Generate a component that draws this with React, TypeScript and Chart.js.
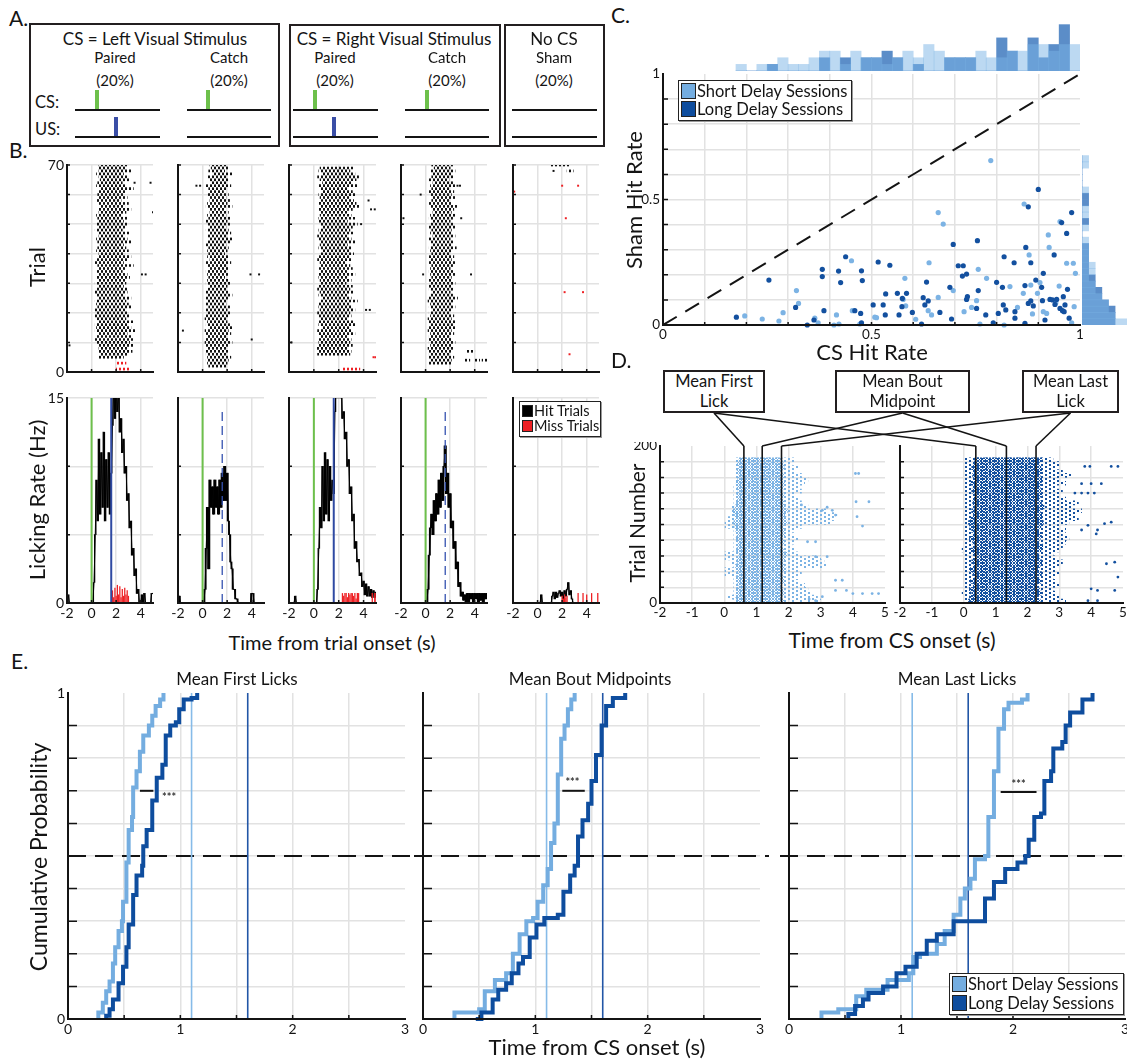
import React, { useEffect, useRef } from 'react';
import { Chart, registerables } from 'chart.js';

Chart.register(...registerables);

// ======================= DATA =======================
// ---- Panel B: licking-rate traces, 0.1 s bins from -2.0 s to 5.0 s (Hz) ----
const rateBinStart = -2;
const rateBinWidth = 0.1;
const rateLeftPairedHit = [
  0.6, 0.6, 0, 0, 0, 0, 0, 0, 0, 0,
  0, 0, 0, 0, 0, 0, 0, 0, 0, 0,
  0, 0, 1.5, 5, 9, 6, 12, 6.5, 11, 7,
  12.5, 6, 10.5, 7, 11, 6.5, 9.5, 13, 16, 13.5,
  16, 14, 15.5, 12.5, 13.5, 11, 12, 9.5, 10, 7.5,
  8, 5.5, 6, 3.5, 4, 2, 2.5, 0.7, 1, 0,
  0, 0.6, 0, 0.7, 0, 0, 0, 0, 0, 0.7, 0.7,
];
const rateLeftPairedMiss = [
  0, 0, 0, 0, 0, 0, 0, 0, 0, 0,
  0, 0, 0, 0, 0, 0, 0, 0, 0, 0,
  0, 0, 0, 0, 0, 0, 0, 0, 0, 0,
  0, 0, 0, 0, 0, 0, 0, 0.9, 0.4, 1.1,
  0.5, 1.3, 0.6, 1.2, 0.4, 1.0, 0.5, 1.1, 0.6, 0.9,
  0.5, 0, 0, 0, 0, 0, 0, 0, 0, 0,
  0, 0, 0, 0, 0, 0, 0, 0, 0, 0, 0,
];
const rateLeftCatchHit = [
  0.5, 0.5, 0, 0, 0, 0, 0, 0, 0, 0,
  0, 0, 0, 0, 0, 0, 0, 0, 0, 0,
  0, 0, 1, 4, 7, 2.5, 9, 7, 8.5, 6.5,
  9, 7, 8.5, 6.5, 9, 7, 9.5, 7.5, 10, 7.5,
  9.5, 6, 5, 3, 2.5, 1, 1, 0.3, 0.3, 0,
  0, 0, 0, 0, 0, 0, 0, 0, 0, 0,
  0.7, 0.7, 0, 0, 0, 0, 0, 0, 0, 0, 0,
];
const rateRightPairedHit = [
  0, 0, 0, 0, 0, 0.5, 0, 0, 0, 0,
  0, 0, 0, 0, 0, 0, 0, 0, 0, 0,
  0, 0, 0, 1, 4, 7, 5.5, 10, 6, 11,
  6.5, 10.5, 6, 10, 7.5, 9, 8, 14, 16, 15,
  16, 15, 16, 13.5, 14, 12, 12.5, 10, 10.5, 8,
  8.5, 6, 6.5, 4, 4.5, 3, 3.2, 2, 2.2, 1.2,
  1.6, 0.6, 1.4, 0.5, 1.2, 0.5, 1, 0.4, 0.9, 0.4, 0.8,
];
const rateRightPairedMiss = [
  0, 0, 0, 0, 0, 0, 0, 0, 0, 0,
  0, 0, 0, 0, 0, 0, 0, 0, 0, 0,
  0, 0, 0, 0, 0, 0, 0, 0, 0, 0,
  0, 0, 0, 0, 0, 0, 0, 0, 0, 0,
  0, 0, 0, 0.7, 0.5, 0.7, 0.7, 0.4, 0.7, 0.6,
  0.7, 0.7, 0.5, 0.7, 0.3, 0.7, 0.7, 0, 0, 0,
  0, 0, 0, 0, 0, 0, 0, 0.7, 0, 0.7, 0.7,
];
const rateRightCatchHit = [
  0, 0, 0, 0, 0, 0, 0, 0, 0, 0,
  0, 0, 0, 0, 0, 0, 0, 0, 0, 0,
  0, 0, 1, 3.5, 5.5, 6.5, 5, 7.5, 6, 8,
  6.5, 9, 7, 9.5, 7.5, 10, 11.5, 8, 9.5, 7,
  8, 5.5, 6, 4, 4.5, 2.5, 3, 1.2, 1.5, 0.5,
  0.8, 0.2, 0.6, 0, 0.7, 0, 0.7, 0.3, 0.7, 0,
  0.7, 0.3, 0.7, 0, 0.7, 0.2, 0.7, 0, 0.7, 0.3, 0.7,
];
const rateShamHit = [
  0, 0, 0, 0, 0, 0, 0, 0, 0, 0,
  0, 0, 0, 0, 0, 0, 0, 0, 0, 0,
  0, 0, 0, 0.6, 0, 0, 0, 0, 0, 0,
  0, 0, 0.5, 0.8, 0.3, 0.8, 0.4, 0.7, 0.9, 0.5,
  0.8, 0.3, 0.9, 0.5, 1.0, 1.5, 0.6, 0.9, 0.3, 0,
  0, 0, 0, 0, 0, 0, 0, 0, 0, 0,
  0, 0, 0, 0, 0, 0, 0, 0, 0, 0, 0,
];
const rateShamMiss = [
  0.7, 0, 0, 0, 0, 0, 0, 0, 0, 0,
  0, 0, 0, 0, 0, 0, 0, 0, 0, 0,
  0, 0, 0, 0, 0, 0, 0, 0, 0, 0,
  0, 0, 0, 0, 0, 0, 0, 0, 0, 0,
  0.5, 0.3, 0.6, 0.4, 0.5, 0, 0, 0, 0, 0,
  0, 0, 0, 0.7, 0, 0, 0, 0.7, 0, 0,
  0.6, 0, 0, 0, 0.7, 0, 0, 0, 0, 0.7, 0,
];
const csOnset = 0;
const usOnset = 1.6;

// ---- Panel B: lick rasters, first/last lick of each hit trial (s), listed from the top trial down ----
const rasterLeftPairedStart = [
  0.6, 0.5, 0.6, 0.4, 0.6, 0.7, 0.5, 0.4, 0.8, 0.6,
  0.5, 0.6, 0.4, 0.5, 0.7, 0.5, 0.6, 0.4, 0.5, 0.6,
  0.4, 0.5, 0.3, 0.5, 0.6, 0.4, 0.5, 0.7, 0.5, 0.4,
  0.6, 0.5, 0.4, 0.3, 0.5, 0.6, 0.4, 0.5, 0.4, 0.6,
  0.3, 0.5, 0.4, 0.2, 0.4, 0.5, 0.3, 0.4, 0.5, 0.3,
  0.4, 0.2, 0.4, 0.5, 0.3, 0.4, 0.3, 0.5, 0.4, 0.3,
  0.4, 0.5, 0.6, 0.5, 0.7, 0.6,
];
const rasterLeftPairedEnd = [
  3.0, 2.7, 3.2, 2.6, 2.9, 3.1, 2.5, 2.8, 3.4, 2.7,
  2.6, 2.9, 2.4, 3.0, 2.7, 3.2, 2.8, 2.5, 2.9, 2.6,
  3.0, 2.8, 2.5, 3.1, 2.7, 2.9, 3.3, 2.6, 2.8, 3.0,
  2.7, 3.2, 2.9, 2.6, 3.4, 2.8, 2.5, 2.9, 3.1, 2.7,
  2.8, 2.6, 3.0, 2.9, 2.7, 3.2, 2.8, 3.0, 3.3, 2.7,
  2.9, 3.1, 2.8, 3.4, 3.0, 3.2, 3.6, 2.9, 3.3, 3.5,
  3.1, 3.4, 3.0, 3.3, 2.9, 2.6,
];
const rasterLeftPairedMissRows = [[2.0, 2.8, 3], [2.0, 3.1, 1]];
const rasterLeftPairedDots = [[3.5, 64], [4.8, 64], [5.0, 54], [4.1, 33], [4.4, 33], [-1.8, 9]];

const rasterLeftCatchStart = [
  0.6, 0.7, 0.5, 0.8, 0.4, 0.6, 0.7, 0.3, 0.5, 0.6,
  0.4, 0.5, 0.6, 0.4, 0.3, 0.5, 0.6, 0.4, 0.5, 0.3,
  0.4, 0.5, 0.3, 0.6, 0.4, 0.5, 0.4, 0.3, 0.5, 0.4,
  0.5, 0.4, 0.6, 0.3, 0.4, 0.5, 0.3, 0.4, 0.5, 0.4,
  0.3, 0.5, 0.4, 0.3, 0.4, 0.2, 0.4, 0.3, 0.5, 0.3,
  0.4, 0.3, 0.2, 0.4, 0.3, 0.5, 0.2, 0.3, 0.4, 0.3,
  0.2, 0.3, 0.4, 0.2, 0.3, 0.4, 0.3, 0.4, 0.5,
];
const rasterLeftCatchEnd = [
  1.9, 2.1, 1.8, 2.5, 2.0, 2.2, 1.9, 2.3, 2.0, 1.7,
  2.1, 1.9, 2.2, 2.0, 2.4, 1.8, 2.1, 1.9, 2.3, 2.0,
  2.2, 1.9, 2.1, 2.3, 2.0, 2.4, 2.2, 1.9, 2.1, 2.0,
  1.8, 2.2, 2.0, 2.3, 1.9, 2.1, 2.0, 2.2, 1.8, 2.1,
  2.3, 2.0, 1.9, 2.2, 2.4, 2.1, 2.0, 1.9, 2.2, 2.0,
  2.3, 2.1, 1.9, 2.0, 2.2, 2.5, 2.1, 2.3, 2.0, 2.2,
  2.4, 2.1, 1.9, 2.2, 2.0, 2.3, 2.1, 2.0, 1.9,
];
const rasterLeftCatchDots = [[-0.2, 63], [-0.5, 63], [3.9, 33], [4.6, 33], [-1.6, 14], [4.0, 11]];

const rasterRightPairedStart = [
  0.5, 0.4, 0.6, 0.3, 0.5, 0.7, 0.4, 0.5, 0.6, 0.4,
  0.5, 0.6, 0.3, 0.5, 0.4, 0.6, 0.5, 0.4, 0.3, 0.5,
  0.6, 0.4, 0.5, 0.3, 0.4, 0.6, 0.5, 0.4, 0.7, 0.5,
  0.4, 0.3, 0.5, 0.6, 0.4, 0.5, 0.3, 0.4, 0.5, 0.6,
  0.4, 0.3, 0.5, 0.4, 0.6, 0.5, 0.3, 0.4, 0.5, 0.3,
  0.4, 0.5, 0.3, 0.4, 0.6, 0.3, 0.4, 0.5, 0.3, 0.4,
  0.3, 0.2, 0.4, 0.3,
];
const rasterRightPairedEnd = [
  3.2, 2.9, 3.3, 3.6, 3.4, 3.0, 3.5, 2.8, 3.1, 3.3,
  2.9, 3.2, 3.4, 3.7, 3.1, 2.8, 3.0, 3.3, 2.7, 3.5,
  3.1, 2.9, 3.2, 2.8, 3.0, 3.4, 2.7, 3.1, 2.9, 3.2,
  2.8, 3.0, 2.6, 2.9, 3.1, 2.7, 3.3, 2.8, 3.0, 2.6,
  3.1, 2.9, 3.2, 2.7, 3.0, 3.5, 2.8, 3.1, 3.3, 2.9,
  3.0, 2.8, 3.2, 3.4, 2.9, 3.1, 3.3, 2.8, 3.0, 2.9,
  3.1, 2.8, 3.0, 2.9,
];
const rasterRightPairedMissRows = [[2.3, 3.7, 1]];
const rasterRightPairedDots = [[4.4, 58], [4.6, 55], [4.9, 55], [3.8, 50], [4.2, 21], [4.5, 21], [-1.8, 10]];
const rasterRightPairedMissDots = [[4.8, 5], [4.95, 5]];

const rasterRightCatchStart = [
  0.5, 0.7, 0.4, 0.6, 0.5, 0.3, 0.6, 0.4, 0.5, 0.3,
  0.4, 0.6, 0.5, 0.3, 0.4, 0.5, 0.6, 0.4, 0.3, 0.5,
  0.4, 0.3, 0.5, 0.4, 0.6, 0.3, 0.4, 0.5, 0.3, 0.4,
  0.5, 0.3, 0.4, 0.2, 0.5, 0.4, 0.3, 0.4, 0.5, 0.3,
  0.4, 0.2, 0.3, 0.5, 0.4, 0.3, 0.2, 0.4, 0.3, 0.5,
  0.3, 0.4, 0.2, 0.3, 0.4, 0.3, 0.2, 0.4, 0.3, 0.2,
  0.3, 0.4, 0.2, 0.3, 0.3, 0.2, 0.4, 0.3,
];
const rasterRightCatchEnd = [
  2.2, 2.0, 2.4, 2.1, 2.3, 1.9, 2.2, 2.5, 2.0, 2.3,
  2.1, 2.4, 2.0, 2.2, 2.6, 2.3, 2.1, 2.4, 2.2, 2.0,
  2.3, 2.5, 2.1, 2.2, 2.4, 2.0, 2.3, 2.1, 2.5, 2.2,
  2.0, 2.3, 2.1, 2.4, 2.2, 2.0, 2.3, 2.5, 2.1, 2.2,
  2.4, 2.1, 2.3, 2.0, 2.2, 2.6, 2.3, 2.1, 2.4, 2.2,
  2.0, 2.3, 2.1, 2.5, 2.2, 2.4, 2.1, 2.3, 2.0, 2.2,
  2.4, 2.1, 2.3, 2.2, 2.0, 2.3, 2.1, 2.2,
];
const rasterRightCatchRows = [[3.3, 4.0, 7], [3.1, 3.6, 4], [4.0, 4.4, 4], [4.6, 5.0, 4]];
const rasterRightCatchDots = [[2.6, 63], [2.8, 63], [-0.4, 60], [2.9, 52], [-1.8, 52], [3.7, 33], [-0.2, 33]];

const rasterShamRows = [[1.1, 2.6, 70], [2.4, 2.9, 68]];
const rasterShamDots = [[1.3, 68]];
const rasterShamMissDots = [[2.0, 63], [3.3, 63], [-1.9, 61], [2.3, 52], [2.2, 27], [3.7, 27], [2.6, 6]];

// ---- Panel C: per-session hit rates ----
const shortCsHit = [
  0.196, 0.238, 0.278, 0.288, 0.32, 0.325, 0.364, 0.372, 0.416, 0.41,
  0.422, 0.454, 0.452, 0.472, 0.508, 0.512, 0.58, 0.576, 0.582, 0.606,
  0.636, 0.638, 0.644, 0.66, 0.66, 0.672, 0.696, 0.722, 0.74, 0.756,
  0.752, 0.76, 0.776, 0.786, 0.818, 0.832, 0.85, 0.866, 0.864, 0.878,
  0.882, 0.886, 0.898, 0.904, 0.912, 0.92, 0.924, 0.926, 0.942, 0.95,
  0.952, 0.968, 0.98, 0.984, 0.986, 0.989,
];
const shortShamHit = [
  0.036, 0.024, 0.016, 0.049, 0.137, 0.086, 0.027, 0.009, 0.04, 0.0,
  0.004, 0.057, 0.256, 0.004, 0.031, 0.029, 0.186, 0.102, 0.076, 0.023,
  0.057, 0.248, 0.04, 0.448, 0.11, 0.402, 0.137, 0.053, 0.07, 0.222,
  0.097, 0.004, 0.186, 0.655, 0.0, 0.153, 0.07, 0.482, 0.126, 0.279,
  0.159, 0.044, 0.126, 0.169, 0.053, 0.046, 0.359, 0.309, 0.089, 0.155,
  0.412, 0.246, 0.009, 0.246, 0.073, 0.206,
];
const longCsHit = [
  0.176, 0.254, 0.318, 0.362, 0.346, 0.382, 0.382, 0.386, 0.421, 0.426,
  0.438, 0.46, 0.474, 0.476, 0.478, 0.476, 0.504, 0.516, 0.528, 0.533,
  0.534, 0.544, 0.562, 0.566, 0.574, 0.573, 0.584, 0.598, 0.62, 0.624,
  0.632, 0.636, 0.628, 0.664, 0.692, 0.688, 0.696, 0.708, 0.72, 0.718,
  0.728, 0.728, 0.73, 0.754, 0.756, 0.752, 0.774, 0.792, 0.8, 0.804,
  0.814, 0.816, 0.818, 0.822, 0.842, 0.844, 0.844, 0.868, 0.868, 0.87,
  0.876, 0.876, 0.882, 0.882, 0.888, 0.894, 0.9, 0.908, 0.91, 0.912,
  0.916, 0.928, 0.934, 0.938, 0.94, 0.944, 0.952, 0.956, 0.958, 0.96,
  0.962, 0.964, 0.968, 0.97, 0.974, 0.98,
];
const longShamHit = [
  0.031, 0.179, 0.07, 0.02, 0.0, 0.222, 0.193, 0.057, 0.215, 0.169,
  0.272, 0.057, 0.046, 0.216, 0.177, 0.009, 0.08, 0.251, 0.08, 0.04,
  0.124, 0.238, 0.126, 0.04, 0.106, 0.073, 0.126, 0.05, 0.004, 0.109,
  0.171, 0.096, 0.08, 0.05, 0.024, 0.15, 0.321, 0.236, 0.236, 0.195,
  0.203, 0.102, 0.113, 0.336, 0.137, 0.066, 0.04, 0.009, 0.17, 0.046,
  0.15, 0.08, 0.272, 0.06, 0.248, 0.053, 0.027, 0.007, 0.157, 0.309,
  0.471, 0.086, 0.248, 0.096, 0.076, 0.179, 0.54, 0.15, 0.097, 0.206,
  0.02, 0.102, 0.1, 0.279, 0.082, 0.102, 0.066, 0.408, 0.057, 0.113,
  0.053, 0.08, 0.365, 0.142, 0.027, 0.448,
];
// marginal histograms (counts), bins of 0.025
const csHistStart = 0.175;
const histBinWidth = 0.025;
const csHistShort = [1, 0, 1, 1, 2, 1, 1, 2, 3, 3, 1, 3, 2, 2, 1, 2, 3, 2, 4, 3, 2, 2, 2, 3, 2, 2, 3, 3, 4, 4, 3, 4, 4];
const csHistLong = [0, 0, 0, 1, 0, 0, 0, 0, 2, 0, 2, 0, 2, 2, 3, 2, 0, 1, 0, 0, 2, 2, 2, 0, 0, 5, 3, 0, 5, 2, 4, 7, 0];
const shamHistStart = 0;
const shamHistShort = [7, 5, 4, 4, 3, 2, 2, 1, 2, 2, 1, 1, 1, 1, 0, 1, 0, 1, 1, 0, 0, 1, 0, 0, 0, 1, 1];
const shamHistLong = [5, 5, 5, 4, 3, 3, 2, 2, 1, 1, 1, 1, 1, 0, 0, 0, 1, 0, 0, 1, 1, 0, 0, 0, 0, 0, 0];

// ---- Panel D: lick rasters grouped in blocks of 5 trials (s) ----
const dTrialsPerBlock = 5;
const dShortCoreStart = [
  0.40, 0.36, 0.42, 0.38, 0.45, 0.40, 0.37, 0.44, 0.39, 0.35,
  0.42, 0.40, 0.46, 0.38, 0.41, 0.43, 0.37, 0.40, 0.36, 0.33,
  0.30, 0.35, 0.32, 0.28, 0.34, 0.38, 0.41, 0.39, 0.43, 0.40,
  0.37, 0.42, 0.45, 0.40, 0.44, 0.41, 0.46,
];
const dShortCoreEnd = [
  1.85, 1.80, 1.90, 1.82, 1.78, 1.88, 1.84, 1.80, 1.92, 1.86,
  1.83, 1.88, 1.95, 1.84, 1.80, 1.86, 1.82, 1.88, 1.90, 1.84,
  1.95, 1.92, 1.88, 1.96, 1.90, 1.85, 1.82, 1.86, 1.80, 1.84,
  1.88, 1.82, 1.85, 1.80, 1.86, 1.83, 1.80,
];
const dShortSparseStart = [
  0.30, 0.10, 0.30, 0.30, 0.30, 0.30, 0.30, 0.00, 0.00, 0.30,
  0.20, 0.00, 0.00, 0.30, 0.30, 0.30, 0.30, 0.30, 0.30, 0.00,
  0.00, 0.10, 0.20, 0.20, 0.20, 0.30, 0.30, 0.30, 0.30, 0.30,
  0.35, 0.35, 0.35, 0.35, 0.35, 0.35, 0.35,
];
const dShortSparseEnd = [
  3.0, 2.9, 2.7, 2.6, 2.5, 2.3, 2.2, 2.4, 2.3, 3.2,
  3.1, 3.0, 2.3, 2.2, 2.1, 2.2, 2.3, 2.1, 2.2, 2.4,
  3.3, 3.4, 3.5, 3.2, 2.6, 2.4, 2.3, 2.2, 2.4, 2.3,
  2.5, 2.6, 2.4, 2.2, 2.3, 2.1, 2.2,
];
const dShortLateT = [4.08, 4.18, 4.1, 4.5, 4.13, 4.3, 2.59, 2.84, 2.84, 3.2, 3.46, 3.67, 3.46, 3.8, 4.0, 4.3, 4.6, 4.8, 3.05, 2.84, 2.64, 3.05, 3.36, 3.2, 3.46, 2.4];
const dShortLateTrial = [165, 165, 129, 129, 110, 98, 78, 78, 59, 59, 29, 29, 16, 16, 12, 12, 12, 12, 8, 3, 5, 118, 118, 122, 112, 125];

const dLongCoreStart = [
  0.15, 0.20, 0.25, 0.18, 0.30, 0.22, 0.35, 0.28, 0.20, 0.32,
  0.25, 0.38, 0.30, 0.22, 0.35, 0.28, 0.18, 0.30, 0.25, 0.20,
  0.15, 0.22, 0.30, 0.25, 0.35, 0.28, 0.32, 0.38, 0.25, 0.30,
  0.22, 0.35, 0.28, 0.32, 0.25, 0.30, 0.35,
];
const dLongCoreEnd = [
  2.40, 2.35, 2.45, 2.38, 2.30, 2.42, 2.36, 2.44, 2.32, 2.40,
  2.46, 2.38, 2.34, 2.42, 2.48, 2.36, 2.40, 2.44, 2.35, 2.42,
  2.50, 2.45, 2.48, 2.40, 2.52, 2.44, 2.38, 2.46, 2.42, 2.40,
  2.44, 2.48, 2.40, 2.45, 2.42, 2.38, 2.46,
];
const dLongSparseStart = [
  0.00, 0.00, -0.05, 0.00, 0.00, 0.00, 0.05, 0.00, 0.00, 0.05,
  0.00, 0.00, 0.00, -0.05, 0.00, 0.00, 0.00, 0.00, 0.05, 0.00,
  0.00, 0.00, 0.00, 0.00, 0.05, 0.00, 0.00, 0.00, 0.00, 0.00,
  0.00, 0.00, 0.05, 0.00, 0.00, 0.00, 0.05,
];
const dLongSparseEnd = [
  3.2, 3.0, 2.9, 2.8, 3.0, 2.9, 2.8, 3.0, 2.9, 3.0,
  3.1, 2.9, 2.8, 3.0, 3.1, 3.2, 3.3, 3.1, 3.2, 3.0,
  3.3, 3.6, 3.5, 3.7, 3.4, 3.6, 3.2, 3.0, 3.1, 2.9,
  3.2, 3.0, 3.4, 3.1, 2.9, 3.0, 2.8,
];
const dLongLateT = [3.8, 3.96, 4.63, 4.84, 3.7, 4.0, 4.32, 3.49, 3.7, 3.9, 4.1, 3.7, 4.42, 4.63, 4.2, 3.9, 4.16, 4.74, 4.48, 4.84, 4.0, 4.2, 4.74, 3.9, 4.2];
const dLongLateTrial = [174, 174, 174, 174, 152, 152, 152, 140, 140, 140, 140, 93, 101, 103, 93, 99, 88, 52, 50, 33, 18, 16, 16, 3, 3];
// mean first lick, bout midpoint, last lick (s)
const dShortMeans = [0.61, 1.18, 1.78];
const dLongMeans = [0.38, 1.34, 2.27];

// ---- Panel E: cumulative distributions (time s, cumulative probability) ----
const firstShortT = [0.27, 0.27, 0.31, 0.34, 0.37, 0.40, 0.42, 0.45, 0.48, 0.49, 0.52, 0.54, 0.57, 0.58, 0.61, 0.64, 0.67, 0.72, 0.75, 0.78, 0.82, 0.85];
const firstShortP = [0, 0.02, 0.05, 0.085, 0.115, 0.17, 0.22, 0.27, 0.30, 0.36, 0.48, 0.58, 0.62, 0.71, 0.76, 0.82, 0.87, 0.90, 0.93, 0.96, 0.98, 1.0];
const firstLongT = [0.34, 0.34, 0.37, 0.40, 0.45, 0.49, 0.52, 0.54, 0.58, 0.61, 0.66, 0.67, 0.70, 0.75, 0.79, 0.84, 0.87, 0.91, 0.96, 0.99, 1.03, 1.10, 1.15];
const firstLongP = [0, 0.01, 0.03, 0.06, 0.11, 0.16, 0.22, 0.29, 0.38, 0.44, 0.47, 0.53, 0.58, 0.67, 0.74, 0.78, 0.87, 0.90, 0.91, 0.95, 0.98, 0.985, 1.0];
const midShortT = [0.28, 0.28, 0.50, 0.55, 0.64, 0.74, 0.80, 0.86, 0.92, 0.98, 1.02, 1.07, 1.11, 1.14, 1.17, 1.20, 1.23, 1.26, 1.29, 1.32, 1.35];
const midShortP = [0, 0.02, 0.03, 0.085, 0.12, 0.14, 0.20, 0.26, 0.30, 0.31, 0.36, 0.41, 0.46, 0.54, 0.60, 0.75, 0.86, 0.90, 0.95, 0.98, 1.0];
const midLongT = [0.47, 0.52, 0.62, 0.67, 0.74, 0.79, 0.85, 0.89, 0.95, 1.01, 1.08, 1.20, 1.25, 1.31, 1.35, 1.38, 1.42, 1.47, 1.50, 1.54, 1.59, 1.63, 1.69, 1.80];
const midLongP = [0, 0.02, 0.06, 0.09, 0.11, 0.14, 0.17, 0.19, 0.25, 0.29, 0.31, 0.32, 0.39, 0.44, 0.47, 0.56, 0.61, 0.66, 0.73, 0.81, 0.90, 0.96, 0.985, 1.0];
const lastShortT = [0.29, 0.29, 0.44, 0.60, 0.69, 0.88, 1.07, 1.11, 1.17, 1.32, 1.39, 1.47, 1.53, 1.57, 1.62, 1.66, 1.75, 1.78, 1.83, 1.87, 1.92, 1.96, 2.08, 2.13];
const lastShortP = [0, 0.02, 0.03, 0.07, 0.09, 0.12, 0.14, 0.19, 0.20, 0.23, 0.27, 0.32, 0.37, 0.40, 0.43, 0.49, 0.50, 0.62, 0.76, 0.89, 0.95, 0.97, 0.98, 1.0];
const lastLongT = [0.53, 0.53, 0.59, 0.66, 0.71, 0.84, 0.96, 1.04, 1.14, 1.23, 1.32, 1.47, 1.71, 1.75, 1.83, 1.93, 2.04, 2.11, 2.14, 2.19, 2.25, 2.28, 2.34, 2.36, 2.44, 2.47, 2.51, 2.62, 2.71];
const lastLongP = [0, 0.015, 0.04, 0.06, 0.08, 0.10, 0.14, 0.16, 0.20, 0.24, 0.26, 0.30, 0.30, 0.37, 0.42, 0.46, 0.48, 0.50, 0.55, 0.62, 0.63, 0.73, 0.76, 0.83, 0.85, 0.90, 0.94, 0.98, 1.0];
const shortDelay = 1.1;
const longDelay = 1.6;
const medianLevel = 0.5;
// significance marks: [bar from, bar to, level, label x, label level]
const sigFirst = [0.64, 0.76, 0.70, 0.90, 0.68];
const sigMid = [1.24, 1.44, 0.70, 1.33, 0.725];
const sigLast = [1.89, 2.21, 0.696, 2.05, 0.718];

// ======================= STYLE =======================
const FONT = 'Lato, "Open Sans", "DejaVu Sans", sans-serif';
const GRID = '#e2e2e2';
const INK = '#141414';
const GREEN = '#6dc04b';
const BLUE = '#2f4aa2';
const RED = '#ee2024';
const LIGHT = '#74ade0';
const DARK = '#0e4d9e';
const LIGHT_DOT = '#7cb3e4';
const DARK_DOT = '#13509f';
const HIST_LONG = '#5b8dc8';
const HIST_SHORT = 'rgba(121,179,229,0.5)';

const LAYOUT = [
  { key: 'bt0', x: 67, y: 165, w: 86, h: 207, pad: [30, 6, 4, 6] },
  { key: 'bt1', x: 178, y: 165, w: 86, h: 207, pad: [6, 6, 4, 6] },
  { key: 'bt2', x: 289, y: 165, w: 87, h: 207, pad: [6, 6, 4, 6] },
  { key: 'bt3', x: 401, y: 165, w: 86, h: 207, pad: [6, 6, 4, 6] },
  { key: 'bt4', x: 513, y: 165, w: 86, h: 207, pad: [6, 6, 4, 6] },
  { key: 'bb0', x: 67, y: 398, w: 86, h: 205, pad: [30, 6, 6, 22] },
  { key: 'bb1', x: 178, y: 398, w: 86, h: 205, pad: [12, 6, 6, 22] },
  { key: 'bb2', x: 289, y: 398, w: 87, h: 205, pad: [12, 6, 6, 22] },
  { key: 'bb3', x: 401, y: 398, w: 86, h: 205, pad: [12, 6, 6, 22] },
  { key: 'bb4', x: 513, y: 398, w: 86, h: 205, pad: [12, 6, 6, 22] },
  { key: 'cm', x: 663, y: 74, w: 417, h: 251, pad: [34, 6, 6, 24] },
  { key: 'ch', x: 663, y: 20, w: 417, h: 51, pad: [0, 0, 0, 0] },
  { key: 'cr', x: 1082, y: 74, w: 45, h: 251, pad: [0, 0, 0, 0] },
  { key: 'dl', x: 660, y: 446, w: 225, h: 157, pad: [32, 4, 7, 22] },
  { key: 'dr', x: 900, y: 446, w: 225, h: 157, pad: [7, 4, 2, 22] },
  { key: 'e1', x: 68, y: 693, w: 337, h: 326, pad: [20, 6, 9, 22] },
  { key: 'e2', x: 423, y: 693, w: 337, h: 326, pad: [9, 6, 9, 22] },
  { key: 'e3', x: 789, y: 693, w: 336, h: 326, pad: [9, 6, 2, 22] },
];
const D_BOXES = [
  { x: 663, y: 370, w: 102, h: 43, lines: ['Mean First', 'Lick'] },
  { x: 835, y: 370, w: 135, h: 43, lines: ['Mean Bout', 'Midpoint'] },
  { x: 1022, y: 370, w: 97, h: 43, lines: ['Mean Last', 'Lick'] },
];
const OVERLAY = { x: 600, y: 360, w: 527, h: 100 };

// ======================= HELPERS =======================
function lin(min: number, max: number, grid: number[], horiz: boolean, show = true) {
  return {
    type: 'linear', min, max, display: show, offset: false,
    afterBuildTicks: (s: any) => { s.ticks = grid.map((v) => ({ value: v })); },
    ticks: { display: false },
    grid: { display: true, color: GRID, lineWidth: 1.5, drawTicks: false, offset: false },
    border: { display: false },
    afterFit: (s: any) => { if (horiz) s.height = 0; else s.width = 0; },
  };
}

function axesPlugin(o: any) {
  return {
    id: 'mAxes',
    afterDatasetsDraw(chart: any) {
      const { ctx, chartArea: a } = chart;
      const xs = chart.scales.x, ys = chart.scales.y;
      ctx.save();
      ctx.strokeStyle = INK; ctx.lineWidth = o.lw ?? 2; ctx.lineCap = 'square';
      ctx.beginPath(); ctx.moveTo(a.left, a.top); ctx.lineTo(a.left, a.bottom); ctx.lineTo(a.right, a.bottom); ctx.stroke();
      ctx.lineWidth = 1.5; ctx.lineCap = 'butt';
      ctx.beginPath();
      (o.yt || []).forEach((v: number) => { const p = ys.getPixelForValue(v); ctx.moveTo(a.left, p); ctx.lineTo(a.left + (o.yl ?? 5), p); });
      (o.xt || []).forEach((v: number) => { const p = xs.getPixelForValue(v); ctx.moveTo(p, a.bottom); ctx.lineTo(p, a.bottom - (o.xl ?? 4)); });
      ctx.stroke();
      ctx.fillStyle = INK; ctx.font = `${o.fs ?? 13}px ${FONT}`;
      ctx.textAlign = 'center'; ctx.textBaseline = 'top';
      (o.xLab || []).forEach(([v, s]: any) => ctx.fillText(s, xs.getPixelForValue(v), a.bottom + 3));
      ctx.textAlign = 'right'; ctx.textBaseline = 'middle';
      (o.yLab || []).forEach(([v, s]: any) => ctx.fillText(s, a.left - 3, ys.getPixelForValue(v)));
      ctx.restore();
    },
  };
}

function makePattern(color: string, tw: number, th: number, rects: number[][]) {
  const c = document.createElement('canvas');
  c.width = tw; c.height = th;
  const g = c.getContext('2d')!;
  g.fillStyle = color;
  rects.forEach(([x, y, w, h]) => g.fillRect(x, y, w, h));
  return g.createPattern(c, 'repeat');
}

const vline = (x: number, y0: number, y1: number, color: string, width: number, dash: number[] = [], order = 0) => ({
  type: 'line', data: [{ x, y: y0 }, { x, y: y1 }], borderColor: color, borderWidth: width,
  borderDash: dash, pointRadius: 0, order,
});

const rasterGrid = [10, 20, 30, 40, 50, 60, 70];

function rasterCfg(p: any, starts: number[], ends: number[], top: number, extraRows: number[][], missRows: number[][], dots: number[][], missDots: number[][], yLab: boolean) {
  const rows = starts.map((s, i) => ({ x: [s, ends[i]], y: top - i }))
    .concat(extraRows.map(([s, e, tr]) => ({ x: [s, e], y: tr })));
  const miss = missRows.map(([s, e, tr]) => ({ x: [s, e], y: tr }));
  return {
    type: 'scatter',
    data: {
      datasets: [
        { type: 'bar', indexAxis: 'y', grouped: false, data: rows, backgroundColor: rows.map((_, i) => p.black[i % 2]), barThickness: 2, borderWidth: 0, order: 2 },
        { type: 'bar', indexAxis: 'y', grouped: false, data: miss, backgroundColor: miss.map((_, i) => p.red[i % 2]), barThickness: 2, borderWidth: 0, order: 1 },
        { type: 'scatter', data: dots.map(([t, tr]) => ({ x: t, y: tr })), backgroundColor: '#111', pointStyle: 'rect', pointRadius: 1.4, borderWidth: 0, order: 0 },
        { type: 'scatter', data: missDots.map(([t, tr]) => ({ x: t, y: tr })), backgroundColor: RED, pointStyle: 'rect', pointRadius: 1.4, borderWidth: 0, order: 0 },
      ],
    },
    options: { scales: { x: lin(-2, 5, [0, 2, 4], true), y: lin(0, 70, rasterGrid, false) } },
    plugins: [axesPlugin({ xt: [0, 2, 4], yt: rasterGrid, yl: 3, xl: 3, yLab: yLab ? [[70, '70'], [0, '0']] : [], fs: 14 })],
  };
}

function rateCfg(hit: number[], miss: number[] | null, us: 'solid' | 'dash' | null, cs: boolean, yLab: boolean) {
  const tAt = (i: number) => rateBinStart + i * rateBinWidth;
  const toPts = (arr: number[]) => arr.map((v, i) => ({ x: tAt(i), y: v }));
  // the trace drawn as the filled span between consecutive samples (dense noisy trace)
  const span = hit.slice(0, -1).map((v, i) => ({ x: tAt(i) + rateBinWidth / 2, y: [Math.min(v, hit[i + 1]), Math.max(v, hit[i + 1])] }));
  const ds: any[] = [];
  if (cs) ds.push(vline(csOnset, 0, 15, GREEN, 2, [], 0));
  if (us === 'solid') ds.push(vline(usOnset, 0, 15, BLUE, 2, [], 0));
  if (us === 'dash') ds.push(vline(usOnset, 0, 14.2, '#3552b0', 1.3, [9, 5], 0));
  if (miss) ds.push({ type: 'bar', grouped: false, data: toPts(miss), backgroundColor: RED, barPercentage: 1, categoryPercentage: 1, borderWidth: 0, order: 1 });
  ds.push({ type: 'bar', grouped: false, data: span, backgroundColor: '#000', barPercentage: 1, categoryPercentage: 1, borderWidth: 0, order: 3 });
  ds.push({ type: 'line', data: toPts(hit), borderColor: '#000', borderWidth: 1, pointRadius: 0, order: 2 });
  return {
    type: 'scatter',
    data: { datasets: ds },
    options: { scales: { x: lin(-2, 5, [0, 2, 4], true), y: lin(0, 15, [5, 10, 15], false) } },
    plugins: [axesPlugin({
      xt: [0, 2, 4], yt: [5, 10], yl: 3, xl: 3, fs: 14,
      xLab: [[-2, '-2'], [0, '0'], [2, '2'], [4, '4']],
      yLab: yLab ? [[15, '15'], [0, '0']] : [],
    })],
  };
}

function dCfg(coreS: number[], coreE: number[], spS: number[], spE: number[], lateT: number[], lateTr: number[], means: number[], dense: any, sparse: any, color: string, yLab: boolean) {
  const mid = (g: number) => g * dTrialsPerBlock + dTrialsPerBlock / 2;
  const grid = [20, 40, 60, 80, 100, 120, 140, 160, 180];
  return {
    type: 'scatter',
    data: {
      datasets: [
        { type: 'bar', indexAxis: 'y', grouped: false, data: spS.map((s, g) => ({ x: [s, spE[g]], y: mid(g) })), backgroundColor: sparse, barThickness: 4, borderWidth: 0, order: 4 },
        { type: 'bar', indexAxis: 'y', grouped: false, data: coreS.map((s, g) => ({ x: [s, coreE[g]], y: mid(g) })), backgroundColor: dense, barThickness: 4, borderWidth: 0, order: 3 },
        { type: 'scatter', data: lateT.map((t, i) => ({ x: t, y: lateTr[i] })), backgroundColor: color, pointRadius: 1.4, borderWidth: 0, order: 2 },
        ...means.map((m) => vline(m, 0, 200, INK, 1.6, [], 0)),
      ],
    },
    options: { scales: { x: lin(-2, 5, [-1, 0, 1, 2, 3, 4], true), y: lin(0, 200, grid, false) } },
    plugins: [axesPlugin({
      yt: grid, yl: 4, xt: [], fs: 13.5,
      xLab: [[-2, '-2'], [-1, '-1'], [0, '0'], [1, '1'], [2, '2'], [3, '3'], [4, '4'], [5, '5']],
      yLab: yLab ? [[200, '200'], [0, '0']] : [],
    })],
  };
}

function eCfg(sT: number[], sP: number[], lT: number[], lP: number[], sig: number[], yLab: boolean, dashFromAxis: boolean) {
  const ygrid = [0.1, 0.2, 0.3, 0.4, 0.5, 0.6, 0.7, 0.8, 0.9];
  const xgrid = [0.5, 1, 1.5, 2, 2.5];
  const extra = {
    id: 'eExtra',
    beforeDatasetsDraw(chart: any) {
      const { ctx, chartArea: a } = chart;
      const y = chart.scales.y.getPixelForValue(medianLevel);
      ctx.save();
      ctx.strokeStyle = INK; ctx.lineWidth = 2; ctx.setLineDash([18, 9]);
      ctx.beginPath(); ctx.moveTo(dashFromAxis ? a.left : 0, y); ctx.lineTo(chart.width, y); ctx.stroke();
      ctx.restore();
    },
    afterDatasetsDraw(chart: any) {
      const { ctx } = chart;
      const xs = chart.scales.x, ys = chart.scales.y;
      ctx.save();
      ctx.strokeStyle = INK; ctx.lineWidth = 2;
      ctx.beginPath(); ctx.moveTo(xs.getPixelForValue(sig[0]), ys.getPixelForValue(sig[2])); ctx.lineTo(xs.getPixelForValue(sig[1]), ys.getPixelForValue(sig[2])); ctx.stroke();
      ctx.fillStyle = '#333'; ctx.font = `bold 11px ${FONT}`; ctx.textAlign = 'center'; ctx.textBaseline = 'middle';
      ctx.fillText('***', xs.getPixelForValue(sig[3]), ys.getPixelForValue(sig[4]));
      ctx.restore();
    },
  };
  const curve = (T: number[], P: number[], color: string, order: number) => ({
    type: 'line', data: T.map((t, i) => ({ x: t, y: P[i] })), borderColor: color, borderWidth: 4,
    stepped: true, pointRadius: 0, order, clip: 4,
  });
  return {
    type: 'scatter',
    data: {
      datasets: [
        vline(shortDelay, 0, 1, '#86bbe8', 1.6, [], 3),
        vline(longDelay, 0, 1, '#2256a6', 1.6, [], 3),
        curve(sT, sP, LIGHT, 1),
        curve(lT, lP, DARK, 0),
      ],
    },
    options: { scales: { x: lin(0, 3, xgrid, true), y: lin(0, 1, ygrid, false) } },
    plugins: [extra, axesPlugin({
      yt: ygrid, yl: 9, xt: xgrid, xl: 4, fs: 14,
      xLab: [[0, '0'], [1, '1'], [2, '2'], [3, '3']],
      yLab: yLab ? [[1, '1'], [0, '0']] : [],
    })],
  };
}

function buildConfigs() {
  const p = {
    black: [makePattern('#111', 4, 1, [[0, 0, 2, 1]]), makePattern('#111', 4, 1, [[2, 0, 2, 1]])],
    red: [makePattern(RED, 4, 1, [[0, 0, 2, 1]]), makePattern(RED, 4, 1, [[2, 0, 2, 1]])],
  };
  const lightDense = makePattern(LIGHT_DOT, 3, 3, [[0, 0, 2, 2], [2, 2, 1, 1]]);
  const lightSparse = makePattern(LIGHT_DOT, 8, 4, [[0, 0, 2, 2], [4, 2, 2, 2]]);
  const darkDense = makePattern(DARK_DOT, 3, 3, [[0, 0, 2, 2], [2, 2, 1, 1]]);
  const darkSparse = makePattern(DARK_DOT, 8, 4, [[0, 0, 2, 2], [4, 2, 2, 2]]);
  const c: Record<string, any> = {};
  c.bt0 = rasterCfg(p, rasterLeftPairedStart, rasterLeftPairedEnd, 70, [], rasterLeftPairedMissRows, rasterLeftPairedDots, [], true);
  c.bt1 = rasterCfg(p, rasterLeftCatchStart, rasterLeftCatchEnd, 70, [], [], rasterLeftCatchDots, [], false);
  c.bt2 = rasterCfg(p, rasterRightPairedStart, rasterRightPairedEnd, 69, [], rasterRightPairedMissRows, rasterRightPairedDots, rasterRightPairedMissDots, false);
  c.bt3 = rasterCfg(p, rasterRightCatchStart, rasterRightCatchEnd, 70, rasterRightCatchRows, [], rasterRightCatchDots, [], false);
  c.bt4 = rasterCfg(p, [], [], 70, rasterShamRows, [], rasterShamDots, rasterShamMissDots, false);
  c.bb0 = rateCfg(rateLeftPairedHit, rateLeftPairedMiss, 'solid', true, true);
  c.bb1 = rateCfg(rateLeftCatchHit, null, 'dash', true, false);
  c.bb2 = rateCfg(rateRightPairedHit, rateRightPairedMiss, 'solid', true, false);
  c.bb3 = rateCfg(rateRightCatchHit, null, 'dash', true, false);
  c.bb4 = rateCfg(rateShamHit, rateShamMiss, null, false, false);

  const tenths = [0.1, 0.2, 0.3, 0.4, 0.5, 0.6, 0.7, 0.8, 0.9];
  c.cm = {
    type: 'scatter',
    data: {
      datasets: [
        { type: 'line', data: [{ x: 0, y: 0 }, { x: 1, y: 1 }], borderColor: INK, borderWidth: 2, borderDash: [16, 10], pointRadius: 0, order: 2 },
        { type: 'scatter', data: shortCsHit.map((v, i) => ({ x: v, y: shortShamHit[i] })), backgroundColor: LIGHT_DOT, pointRadius: 2.6, borderWidth: 0, clip: false, order: 1 },
        { type: 'scatter', data: longCsHit.map((v, i) => ({ x: v, y: longShamHit[i] })), backgroundColor: DARK_DOT, pointRadius: 2.6, borderWidth: 0, clip: false, order: 0 },
      ],
    },
    options: { scales: { x: lin(0, 1, tenths, true), y: lin(0, 1, tenths, false) } },
    plugins: [axesPlugin({ yt: tenths, yl: 5, xt: tenths, xl: 3, fs: 13.5, xLab: [[0, '0'], [0.5, '0.5'], [1, '1']], yLab: [[1, '1'], [0.5, '0.5'], [0, '0']] })],
  };
  const csCenter = (i: number) => csHistStart + (i + 0.5) * histBinWidth;
  const shamCenter = (i: number) => shamHistStart + (i + 0.5) * histBinWidth;
  c.ch = {
    type: 'scatter',
    data: {
      datasets: [
        { type: 'bar', grouped: false, data: csHistLong.map((v, i) => ({ x: csCenter(i), y: v })), backgroundColor: HIST_LONG, barPercentage: 1, categoryPercentage: 1, borderWidth: 0, order: 1 },
        { type: 'bar', grouped: false, data: csHistShort.map((v, i) => ({ x: csCenter(i), y: v })), backgroundColor: HIST_SHORT, barPercentage: 1, categoryPercentage: 1, borderWidth: 0, order: 0 },
      ],
    },
    options: { scales: { x: lin(0, 1, [], true, false), y: lin(0, 7.7, [], false, false) } },
  };
  c.cr = {
    type: 'scatter',
    data: {
      datasets: [
        { type: 'bar', indexAxis: 'y', grouped: false, data: shamHistLong.map((v, i) => ({ x: v, y: shamCenter(i) })), backgroundColor: HIST_LONG, barPercentage: 1, categoryPercentage: 1, borderWidth: 0, order: 1 },
        { type: 'bar', indexAxis: 'y', grouped: false, data: shamHistShort.map((v, i) => ({ x: v, y: shamCenter(i) })), backgroundColor: HIST_SHORT, barPercentage: 1, categoryPercentage: 1, borderWidth: 0, order: 0 },
      ],
    },
    options: { scales: { x: lin(0, 6.8, [], true, false), y: lin(0, 1, [], false, false) } },
  };
  c.dl = dCfg(dShortCoreStart, dShortCoreEnd, dShortSparseStart, dShortSparseEnd, dShortLateT, dShortLateTrial, dShortMeans, lightDense, lightSparse, LIGHT_DOT, true);
  c.dr = dCfg(dLongCoreStart, dLongCoreEnd, dLongSparseStart, dLongSparseEnd, dLongLateT, dLongLateTrial, dLongMeans, darkDense, darkSparse, DARK_DOT, false);
  c.e1 = eCfg(firstShortT, firstShortP, firstLongT, firstLongP, sigFirst, true, true);
  c.e2 = eCfg(midShortT, midShortP, midLongT, midLongP, sigMid, false, false);
  c.e3 = eCfg(lastShortT, lastShortP, lastLongT, lastLongP, sigLast, false, false);
  return c;
}

function drawConnectors(cv: HTMLCanvasElement | null, charts: Record<string, any>) {
  if (!cv || !charts.dl || !charts.dr) return;
  const g = cv.getContext('2d')!;
  g.clearRect(0, 0, cv.width, cv.height);
  const pos = (key: string, v: number) => {
    const L = LAYOUT.find((l) => l.key === key)!;
    const ch = charts[key];
    return [L.x - L.pad[0] + ch.scales.x.getPixelForValue(v) - OVERLAY.x, L.y - L.pad[1] + ch.scales.y.getPixelForValue(200) - OVERLAY.y];
  };
  g.strokeStyle = INK; g.lineWidth = 1.6;
  D_BOXES.forEach((b, i) => {
    const bx = b.x + b.w / 2 - OVERLAY.x, by = b.y + b.h - OVERLAY.y;
    [pos('dl', dShortMeans[i]), pos('dr', dLongMeans[i])].forEach(([px, py]) => {
      g.beginPath(); g.moveTo(bx, by); g.lineTo(px, py); g.stroke();
    });
  });
}

// ======================= TEXT / SCHEMATIC =======================
const T = ({ x, y, s, children, rot, bold }: any) => (
  <div style={{ position: 'absolute', left: x, top: y, transform: `translate(-50%,-50%)${rot ? ' rotate(-90deg)' : ''}`, fontSize: s, whiteSpace: 'nowrap', lineHeight: 1.15, textAlign: 'center', fontWeight: bold ? 700 : 400 }}>{children}</div>
);
const TL = ({ x, y, s, children }: any) => (
  <div style={{ position: 'absolute', left: x, top: y, transform: 'translateY(-50%)', fontSize: s, whiteSpace: 'nowrap', lineHeight: 1.15 }}>{children}</div>
);
const Frame = ({ x, y, w, h, bw = 2 }: any) => (
  <div style={{ position: 'absolute', left: x, top: y, width: w, height: h, border: `${bw}px solid #231f20`, boxSizing: 'border-box', background: 'transparent' }} />
);
const HL = ({ x1, x2, y }: any) => <div style={{ position: 'absolute', left: x1, top: y - 1, width: x2 - x1, height: 2, background: INK }} />;
const VB = ({ x, y1, y2, c }: any) => <div style={{ position: 'absolute', left: x - 2, top: y1, width: 4, height: y2 - y1, background: c }} />;

const A_TIMELINES = [
  { x1: 75, x2: 160, cs: 97, us: 116 },
  { x1: 187, x2: 271, cs: 208, us: null },
  { x1: 293, x2: 378, cs: 315, us: 334 },
  { x1: 405, x2: 489, cs: 427, us: null },
  { x1: 512, x2: 597, cs: null, us: null },
];

function Legend({ x, y, w, h, fs, sw, items }: any) {
  return (
    <div style={{ position: 'absolute', left: x, top: y, width: w, height: h, border: '1.5px solid #222', boxShadow: '1px 1px 0 #999', background: '#fff', boxSizing: 'border-box', padding: '1px 2px', overflow: 'visible' }}>
      {items.map(([c, label]: any, i: number) => (
        <div key={i} style={{ display: 'flex', alignItems: 'center', height: (h - 5) / items.length, fontSize: fs, lineHeight: 1, whiteSpace: 'nowrap' }}>
          <span style={{ display: 'inline-block', flexShrink: 0, width: sw[0], height: sw[1], background: c, border: '1.5px solid #222', boxSizing: 'border-box', marginRight: 1 }} />
          {label}
        </div>
      ))}
    </div>
  );
}

export default function App() {
  const refs = useRef<Record<string, HTMLCanvasElement | null>>({});
  const overlay = useRef<HTMLCanvasElement | null>(null);

  useEffect(() => {
    const cfgs = buildConfigs();
    const charts: Record<string, any> = {};
    LAYOUT.forEach((L) => {
      const cv = refs.current[L.key];
      if (!cv) return;
      const cfg = cfgs[L.key];
      cfg.options = Object.assign({}, cfg.options, {
        responsive: false, maintainAspectRatio: false, animation: false, events: [], devicePixelRatio: 1,
        layout: { padding: { left: L.pad[0], top: L.pad[1], right: L.pad[2], bottom: L.pad[3] } },
        plugins: { legend: { display: false }, tooltip: { enabled: false } },
      });
      charts[L.key] = new Chart(cv, cfg);
    });
    drawConnectors(overlay.current, charts);
    return () => { Object.values(charts).forEach((ch) => ch.destroy()); };
  }, []);

  return (
    <div style={{ position: 'absolute', left: 0, top: 0, width: 1127, height: 1061, background: '#fff', fontFamily: FONT, color: INK, overflow: 'hidden' }}>
      {LAYOUT.map((L) => {
        const W = L.w + L.pad[0] + L.pad[2];
        const H = L.h + L.pad[1] + L.pad[3];
        return (
          <canvas key={L.key} ref={(el) => { refs.current[L.key] = el; }} width={W} height={H}
            style={{ position: 'absolute', left: L.x - L.pad[0], top: L.y - L.pad[1], width: W, height: H }} />
        );
      })}
      <canvas ref={overlay} width={OVERLAY.w} height={OVERLAY.h} style={{ position: 'absolute', left: OVERLAY.x, top: OVERLAY.y, width: OVERLAY.w, height: OVERLAY.h }} />

      {/* panel letters */}
      <div style={{ position: 'absolute', left: 9, top: 5, fontSize: 21 }}>A.</div>
      <div style={{ position: 'absolute', left: 9, top: 137, fontSize: 21 }}>B.</div>
      <div style={{ position: 'absolute', left: 611, top: 2, fontSize: 21 }}>C.</div>
      <div style={{ position: 'absolute', left: 611, top: 347, fontSize: 21 }}>D.</div>
      <div style={{ position: 'absolute', left: 11, top: 648, fontSize: 21 }}>E.</div>

      {/* panel A schematic */}
      <Frame x={29} y={23} w={251} h={124} />
      <Frame x={289} y={24} w={212} h={123} />
      <Frame x={504} y={24} w={101} h={123} />
      <T x={155} y={39} s={17}>CS = Left Visual Stimulus</T>
      <T x={394} y={39} s={17}>CS = Right Visual Stimulus</T>
      <T x={554} y={39} s={17}>No CS</T>
      <T x={115} y={58} s={15}>Paired</T>
      <T x={115} y={81} s={15}>(20%)</T>
      <T x={229} y={58} s={15}>Catch</T>
      <T x={229} y={81} s={15}>(20%)</T>
      <T x={335} y={58} s={15}>Paired</T>
      <T x={335} y={81} s={15}>(20%)</T>
      <T x={447} y={58} s={15}>Catch</T>
      <T x={447} y={81} s={15}>(20%)</T>
      <T x={554} y={58} s={15}>Sham</T>
      <T x={554} y={81} s={15}>(20%)</T>
      <TL x={35} y={102} s={16.5}>CS:</TL>
      <TL x={35} y={129} s={16.5}>US:</TL>
      {A_TIMELINES.map((t, i) => (
        <React.Fragment key={i}>
          <HL x1={t.x1} x2={t.x2} y={110} />
          <HL x1={t.x1} x2={t.x2} y={137} />
          {t.cs !== null && <VB x={t.cs} y1={90} y2={109} c={GREEN} />}
          {t.us !== null && <VB x={t.us} y1={117} y2={136} c="#3a4ea6" />}
        </React.Fragment>
      ))}

      {/* panel B labels */}
      <T x={37} y={267} s={22} rot>Trial</T>
      <T x={37} y={500} s={22} rot>Licking Rate (Hz)</T>
      <T x={332} y={642} s={20}>Time from trial onset (s)</T>
      <Legend x={519} y={401} w={82} h={36} fs={14.5} sw={[11, 12]} items={[['#000', 'Hit Trials'], [RED, 'Miss Trials']]} />

      {/* panel C labels */}
      <T x={634} y={200} s={22} rot>Sham Hit Rate</T>
      <T x={872} y={352} s={22}>CS Hit Rate</T>
      <Legend x={678} y={80} w={174} h={41} fs={16.5} sw={[15, 16]} items={[[LIGHT, 'Short Delay Sessions'], [DARK, 'Long Delay Sessions']]} />

      {/* panel D labels */}
      {D_BOXES.map((b, i) => (
        <div key={i} style={{ position: 'absolute', left: b.x, top: b.y, width: b.w, height: b.h, border: '2px solid #231f20', boxSizing: 'border-box', background: '#fff', display: 'flex', flexDirection: 'column', alignItems: 'center', justifyContent: 'center', fontSize: 16.5, lineHeight: 1.2 }}>
          {b.lines.map((l, j) => <div key={j}>{l}</div>)}
        </div>
      ))}
      <T x={637} y={523} s={21} rot>Trial Number</T>
      <T x={892} y={640} s={21}>Time from CS onset (s)</T>

      {/* panel E labels */}
      <T x={237} y={679} s={17}>Mean First Licks</T>
      <T x={590} y={679} s={17}>Mean Bout Midpoints</T>
      <T x={957} y={679} s={17}>Mean Last Licks</T>
      <T x={38} y={857} s={23} rot>Cumulative Probability</T>
      <T x={597} y={1047} s={22}>Time from CS onset (s)</T>
      <Legend x={949} y={973} w={175} h={42} fs={16.5} sw={[15, 16]} items={[[LIGHT, 'Short Delay Sessions'], [DARK, 'Long Delay Sessions']]} />
    </div>
  );
}
